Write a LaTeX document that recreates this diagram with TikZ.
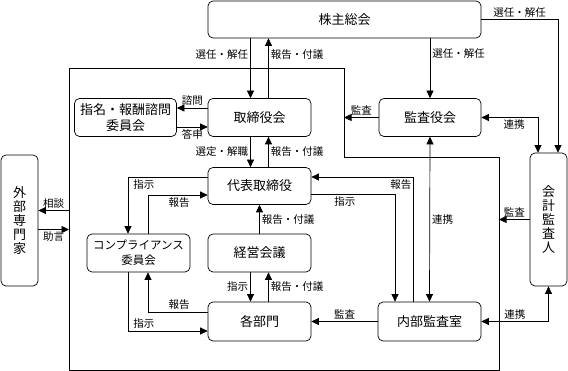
\documentclass[tikz,border=0pt]{standalone}
\usepackage{fontspec}
\setmainfont{Noto Sans CJK JP}
\usetikzlibrary{arrows.meta}

\begin{document}
\begin{tikzpicture}[x=1pt,y=-1pt,
    box/.style={draw,rounded corners=5pt,line width=0.7pt,align=center,inner sep=1pt,
      font=\fontsize{13}{16}\selectfont},
    arr/.style={-{Triangle[length=7.5pt,width=7pt]},line width=0.7pt},
    dbl/.style={{Triangle[length=7.5pt,width=7pt]}-{Triangle[length=7.5pt,width=7pt]},line width=0.7pt},
    lbl/.style={font=\fontsize{10.5}{12}\selectfont,inner sep=2pt}]
    \useasboundingbox (0,0) rectangle (568,371);
    % company frame
    \draw[line width=0.7pt] (69,68) -- (344,68) -- (344,157) -- (499,157) -- (499,370) -- (69,370) -- cycle;
    \coordinate (frtop) at (344,68);
    \coordinate (frright) at (499,157);
    \coordinate (frleft) at (69,68);
    % boxes
    \node[box,minimum width=273,minimum height=37] (soukai) at (344.5,19.5) {株主総会};
    \node[box,minimum width=103,minimum height=38] (tori) at (259.5,117.5) {取締役会};
    \node[box,minimum width=102,minimum height=38] (shimei) at (125.5,117.5) {指名・報酬諮問\\委員会};
    \node[box,minimum width=102,minimum height=38] (kansa) at (430,117.5) {監査役会};
    \node[box,minimum width=103,minimum height=37] (daihyo) at (259.5,186) {代表取締役};
    \node[box,minimum width=103,minimum height=38,font=\fontsize{11.5}{15}\selectfont] (comp) at (138.5,253) {コンプライアンス\\委員会};
    \node[box,minimum width=103,minimum height=38] (keiei) at (259.5,253) {経営会議};
    \node[box,minimum width=103,minimum height=39] (bumon) at (259.5,321.5) {各部門};
    \node[box,minimum width=103,minimum height=39] (naibu) at (429.5,321.5) {内部監査室};
    \node[box,minimum width=37,minimum height=131,font=\fontsize{13}{14}\selectfont] (gaibu) at (19.5,220.5) {外\\部\\専\\門\\家};
    \node[box,minimum width=37,minimum height=133,font=\fontsize{13}{14}\selectfont] (kaikei) at (548.5,219.5) {会\\計\\監\\査\\人};
    % shareholders
    \draw[arr] ([xshift=-9pt]tori.north |- soukai.south) -- ([xshift=-9pt]tori.north)
      node[lbl,left,pos=0.27] {選任・解任};
    \draw[arr] ([xshift=9pt]tori.north) -- ([xshift=9pt]tori.north |- soukai.south)
      node[lbl,right,pos=0.73] {報告・付議};
    \draw[arr] (kansa.north |- soukai.south) -- (kansa.north)
      node[lbl,right,pos=0.26] {選任・解任};
    \draw[arr] (soukai.east) -| ([xshift=9.5pt]kaikei.north)
      node[lbl,above,pos=0.25] {選任・解任};
    % board
    \draw[arr] ([yshift=9.5pt]tori.west) -- ([yshift=9.5pt]shimei.east)
      node[lbl,above,midway] {諮問};
    \draw[arr] ([yshift=-9.5pt]shimei.east) -- ([yshift=-9.5pt]tori.west)
      node[lbl,below,midway] {答申};
    \draw[arr] ([xshift=-9pt]tori.south) -- ([xshift=-9pt]daihyo.north)
      node[lbl,left,midway] {選定・解職};
    \draw[arr] ([xshift=9pt]daihyo.north) -- ([xshift=9pt]tori.south)
      node[lbl,right,midway] {報告・付議};
    % auditors
    \draw[arr] (kansa.west) -- (kansa.west -| frtop)
      node[lbl,above,midway] {監査};
    \draw[dbl] (kansa.east) -| ([xshift=-10.5pt]kaikei.north)
      node[lbl,below,pos=0.29] {連携};
    \draw[dbl] (kansa.south) -- (naibu.north)
      node[lbl,right,midway] {連携};
    \draw[arr] (kaikei.west) -- (kaikei.west -| frright)
      node[lbl,above,midway] {監査};
    \draw[dbl] (naibu.east) -| (kaikei.south)
      node[lbl,above,pos=0.25] {連携};
    \draw[arr] (naibu.west) -- (bumon.east)
      node[lbl,above,midway] {監査};
    \draw[arr] ([yshift=-8.5pt]daihyo.east) -| ([xshift=-34.5pt]naibu.north)
      node[lbl,below,pos=0.2] {指示};
    \draw[arr] ([xshift=-16.5pt]naibu.north) |- ([yshift=9pt]daihyo.east)
      node[lbl,below,pos=0.56] {報告};
    % compliance
    \draw[arr] ([yshift=9pt]daihyo.west) -| ([xshift=-10.5pt]comp.north)
      node[lbl,below,pos=0.4] {指示};
    \draw[arr] ([xshift=9.5pt]comp.north) |- ([yshift=-9pt]daihyo.west)
      node[lbl,below,pos=0.76] {報告};
    \draw[arr] ([yshift=9.5pt]bumon.west) -| ([xshift=9.5pt]comp.south)
      node[lbl,above,pos=0.24] {報告};
    \draw[arr] ([xshift=-10.5pt]comp.south) |- ([yshift=-9.5pt]bumon.west)
      node[lbl,above,pos=0.6] {指示};
    % management
    \draw[arr] (keiei.north) -- (daihyo.south)
      node[lbl,right,midway] {報告・付議};
    \draw[arr] ([xshift=-9pt]keiei.south) -- ([xshift=-9pt]bumon.north)
      node[lbl,left,midway] {指示};
    \draw[arr] ([xshift=9pt]bumon.north) -- ([xshift=9pt]keiei.south)
      node[lbl,right,midway] {報告・付議};
    % external experts
    \draw[arr] ([yshift=10pt]gaibu.east -| frleft) -- ([yshift=10pt]gaibu.east)
      node[lbl,above,midway] {相談};
    \draw[arr] ([yshift=-9pt]gaibu.east) -- ([yshift=-9pt]gaibu.east -| frleft)
      node[lbl,below,midway] {助言};
  \end{tikzpicture}
\end{document}
